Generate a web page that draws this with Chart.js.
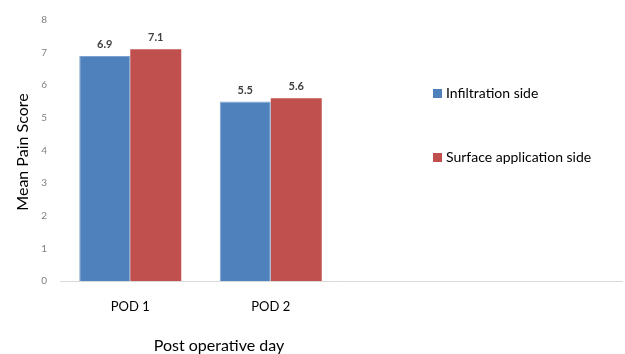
<!DOCTYPE html>
<html><head><meta charset="utf-8">
<script src="https://cdn.jsdelivr.net/npm/chart.js@4.4.1/dist/chart.umd.min.js"></script>
<style>html,body{margin:0;padding:0;background:#fff}#wrap{width:625px;height:354px}</style>
</head><body><div id="wrap"><canvas id="c" width="625" height="354"></canvas></div>
<script>
const categories = ['POD 1', 'POD 2', '', ''];
const infiltration = [6.9, 5.5, null, null];
const surface = [7.1, 5.6, null, null];
const seriesNames = ['Infiltration side', 'Surface application side'];
const yTicks = [0, 1, 2, 3, 4, 5, 6, 7, 8];
const FONT = 'Lato, "Open Sans", sans-serif';

const labelPlugin = {
  id: 'extras',
  afterDatasetsDraw(chart) {
    const ctx = chart.ctx;
    ctx.save();
    ctx.font = 'bold 11px ' + FONT;
    ctx.fillStyle = '#404040';
    ctx.textAlign = 'center';
    ctx.textBaseline = 'bottom';
    chart.data.datasets.forEach((ds, i) => {
      chart.getDatasetMeta(i).data.forEach((bar, j) => {
        const v = ds.data[j];
        if (v == null) return;
        ctx.fillText(v.toFixed(1), bar.x, bar.y - 6);
      });
    });
    // legend
    const ys = [93, 157];
    ctx.font = '14px ' + FONT;
    ctx.textAlign = 'left';
    ctx.textBaseline = 'middle';
    chart.data.datasets.forEach((ds, i) => {
      ctx.fillStyle = ds.backgroundColor;
      ctx.fillRect(433, ys[i] - 4, 9, 9);
      ctx.fillStyle = '#000';
      ctx.fillText(ds.label, 446, ys[i]);
    });
    // axis titles
    ctx.font = '16px ' + FONT;
    ctx.textAlign = 'center';
    ctx.fillText('Post operative day', 219, 346);
    ctx.save();
    ctx.translate(23, 152);
    ctx.rotate(-Math.PI / 2);
    ctx.font = '16px ' + FONT;
    ctx.fillText('Mean Pain Score', 0, 0);
    ctx.restore();
    ctx.restore();
  }
};

new Chart(document.getElementById('c'), {
  type: 'bar',
  data: {
    labels: categories,
    datasets: [
      { label: seriesNames[0], data: infiltration, backgroundColor: '#4F81BD', borderColor: '#7FA3D0', borderWidth: 1 },
      { label: seriesNames[1], data: surface, backgroundColor: '#C0504D', borderColor: '#C0504D', borderWidth: 0 }
    ]
  },
  options: {
    responsive: false,
    animation: false,
    layout: { padding: { top: 20, right: 3, left: 0, bottom: 0 } },
    plugins: { legend: { display: false }, tooltip: { enabled: false } },
    datasets: { bar: { categoryPercentage: 0.726, barPercentage: 1 } },
    scales: {
      x: {
        grid: { display: false, drawTicks: false },
        border: { display: true, color: '#d9d9d9', width: 1 },
        ticks: { padding: 18, color: '#000', font: { family: FONT, size: 13 } },
        afterFit(s) { s.height = 73; }
      },
      y: {
        min: 0, max: 8,
        afterBuildTicks(s) { s.ticks = yTicks.map(v => ({ value: v })); },
        grid: { display: false, drawTicks: false },
        border: { display: false },
        ticks: { padding: 13, color: '#7f7f7f', font: { family: FONT, size: 10 } },
        afterFit(s) { s.width = 60; }
      }
    }
  },
  plugins: [labelPlugin]
});
</script></body></html>
